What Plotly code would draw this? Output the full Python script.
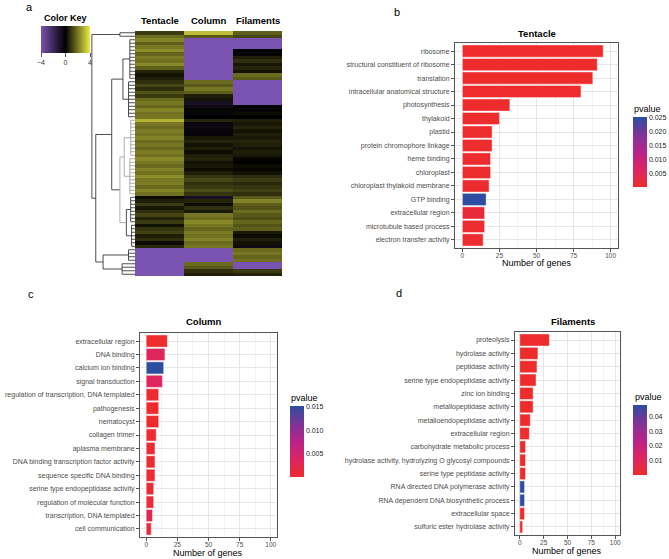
import plotly.graph_objects as go

FONT = "Liberation Sans, Arial, sans-serif"
W, H = 669, 559

# ---------------- panel a: heatmap data ----------------
heat_cols = ["Tentacle", "Column", "Filaments"]
tentacle_z = [1.0,
              1.8, 2.2, 1.6, 2.0, 2.4, 1.7, 2.1, 1.9, 2.3, 1.6,
              0.6, 0.3, 0.5, 0.8,
              1.2, 0.8, 1.4, 1.0,
              1.8, 2.0, 1.7, 2.2, 1.9, 2.0,
              3.0,
              2.0, 1.8, 2.1, 1.9, 2.2, 1.8, 2.0, 1.7, 2.1, 1.9, 2.3, 2.0, 1.8, 2.2, 1.9, 2.4, 2.0, 2.1, 1.8, 2.2, 1.9,
              0.2, 0.5,
              1.0, 0.4, 0.8, 1.2, 0.6, 1.0, 0.3, 0.9, 1.1, 0.5, 0.8, 0.2, 0.7,
              -5, -5, -5, -5, -5, -5, -5, -5]
column_z = [3.2,
            1.5,
            -5, -5, -5, -5, -5, -5, -5, -5, -5, -5, -5, -5,
            1.8, 1.5, 2.0, 1.6,
            0.5, 0.3,
            -0.8, -0.5,
            0.1, -0.2, 0.0,
            0.6,
            -0.3, -0.4, -0.3, -0.2,
            0.4, 0.6, 0.3, 0.5, 0.2, 0.5, 0.6, 0.3, 0.4, 0.2, 0.5,
            0.9, 1.2, 0.8, 1.0, 1.3, 0.9,
            -0.8,
            0.6, 0.2, 0.8, 0.4,
            2.0, 1.8, 2.3, 2.0, 1.7, 2.1, 1.9, 2.2, 1.8, 2.0,
            -5, -5, -5, -5,
            1.8, 1.5,
            0.8, 0.5]
filaments_z = [1.6, 1.2,
               -5, -5, -5,
               0.0, 0.1,
               0.5, 0.8, 0.4, 0.6, 0.3,
               1.8, 1.5,
               -5, -5, -5, -5, -5, -5, -5,
               0.0, 0.1, 0.2, 0.0,
               0.5, 0.4, 0.6, 0.3, 0.5, 0.4, 0.6, 0.5, 0.3, 0.5, 0.4,
               0.1, 0.0, 0.2, 0.1, 0.3,
               0.8, 1.0, 0.7, 0.9, 1.1, 0.8,
               1.5, 2.2, 1.6, 1.4, 1.8, 1.5, 1.3, 1.7, 1.4, 1.6,
               0.4, 0.2, 0.5, 0.3,
               -0.5,
               1.8, 2.0, 1.7, 1.9,
               -5, -5,
               1.0, 0.6]
key_ticks = [-4, 0, 4]

# dendrogram: (height, left, right, colour) for merges, ("leaf", first_row, last_row, height)
dendro_tree = (10.0,
               ("leaf", 0, 1, 3.5),
               (9.1,
                (5.4,
                 (2.8, ("leaf", 2, 13, 1.2), ("leaf", 14, 24, 1.5), "#222222"),
                 (3.5,
                  (2.5, ("leaf", 25, 35, 1.0), ("leaf", 36, 46, 1.2), "#9a9a9a"),
                  (2.0, ("leaf", 47, 54, 1.0), ("leaf", 55, 61, 0.8), "#222222"),
                  "#9a9a9a"),
                 "#222222"),
                (7.4, ("leaf", 62, 65, 1.5), ("leaf", 66, 69, 3.0), "#222222"),
                "#222222"),
               "#222222")

# ---------------- panels b-d: enrichment data ----------------
tent_terms = ["ribosome", "structural constituent of ribosome", "translation",
              "intracellular anatomical structure", "photosynthesis", "thylakoid", "plastid",
              "protein chromophore linkage", "heme binding", "chloroplast",
              "chloroplast thylakoid membrane", "GTP binding", "extracellular region",
              "microtubule based process", "electron transfer activity"]
tent_counts = [95, 91, 88, 80, 32, 25, 20, 20, 19, 19, 18, 16, 15, 15, 14]
tent_p = [0.0001, 0.0001, 0.0001, 0.0001, 0.0002, 0.0002, 0.0003, 0.0003, 0.0003, 0.0003,
          0.0004, 0.0252, 0.0018, 0.0004, 0.0004]
tent_pticks = [0.005, 0.010, 0.015, 0.020, 0.025]
tent_ptext = ["0.005", "0.010", "0.015", "0.020", "0.025"]

col_terms = ["extracellular region", "DNA binding", "calcium ion binding", "signal transduction",
             "regulation of transcription, DNA templated", "pathogenesis", "nematocyst",
             "collagen trimer", "aplasma membrane", "DNA binding transcription factor activity",
             "sequence specific DNA binding", "serine type endopeptidase activity",
             "regulation of molecular function", "transcription, DNA templated", "cell communication"]
col_counts = [17, 15, 14, 13, 10, 10, 10, 8, 7, 7, 7, 6, 6, 5, 4]
col_p = [0.0001, 0.0035, 0.0152, 0.0035, 0.0003, 0.0002, 0.0002, 0.0004, 0.0006, 0.0005,
         0.0005, 0.0007, 0.0007, 0.0030, 0.0008]
col_pticks = [0.005, 0.010, 0.015]
col_ptext = ["0.005", "0.010", "0.015"]

fil_terms = ["proteolysis", "hydrolase activity", "peptidase activity",
             "serine type endopeptidase activity", "zinc ion binding", "metallopeptidase activity",
             "metalloendopeptidase activity", "extracellular region", "carbohydrate metabolic process",
             "hydrolase activity, hydrolyzing O glycosyl compounds", "serine type peptidase activity",
             "RNA directed DNA polymerase activity", "RNA dependent DNA biosynthetic process",
             "extracellular space", "sulfuric ester hydrolase activity"]
fil_counts = [31, 19, 18, 17, 14, 14, 11, 10, 6, 6, 6, 5, 5, 5, 3]
fil_p = [0.0002, 0.0002, 0.0002, 0.0002, 0.0003, 0.0003, 0.0004, 0.0004, 0.0005, 0.0005,
         0.0005, 0.0480, 0.0480, 0.0006, 0.0006]
fil_pticks = [0.01, 0.02, 0.03, 0.04]
fil_ptext = ["0.01", "0.02", "0.03", "0.04"]

gene_ticks = [0, 25, 50, 75, 100]

# ---------------- helpers ----------------
def px(x):
    return x / W


def py(y):
    return 1 - y / H


p_scale = [[0.0, "#EE2C2C"], [0.25, "#DC2463"], [0.5, "#B8228A"],
           [0.75, "#7D3498"], [1.0, "#2D4EA0"]]
heat_scale = [[0.0, "#7A52B0"], [0.5, "#000000"], [1.0, "#EDED45"]]

fig = go.Figure()

# heatmap
z_rows = [[t, c, f] for t, c, f in zip(tentacle_z, column_z, filaments_z)]
fig.add_trace(go.Heatmap(
    z=z_rows, x=[0, 1, 2], y=list(range(len(z_rows))),
    zmin=-4, zmax=4, colorscale=heat_scale, xaxis="x", yaxis="y",
    hoverinfo="skip",
    colorbar=dict(orientation="h", x=px(65.5), xanchor="center", y=py(26), yanchor="top",
                  len=49, lenmode="pixels", thickness=27, xpad=0, ypad=0,
                  outlinewidth=0, tickvals=key_ticks,
                  ticktext=["\u22124", "0", "4"], ticks="outside", ticklen=4,
                  tickcolor="#555555", tickfont=dict(size=7, color="#333333", family=FONT))))

# dendrogram
segs = {}


def add_seg(color, x0, y0, x1, y1):
    xs, ys = segs.setdefault(color, ([], []))
    xs += [x0, x1, None]
    ys += [y0, y1, None]


def walk(node, color):
    if node[0] == "leaf":
        _, s, e, h = node
        if e > s:
            add_seg(color, h, s, h, e)
        for r in range(s, e + 1):
            add_seg(color, h, r, 0, r)
        return (s + e) / 2, h
    h, a, b, col = node
    pa, ha = walk(a, col)
    pb, hb = walk(b, col)
    add_seg(col, ha, pa, h, pa)
    add_seg(col, hb, pb, h, pb)
    add_seg(col, h, pa, h, pb)
    return (pa + pb) / 2, h


walk(dendro_tree, dendro_tree[3])
for color, (xs, ys) in segs.items():
    fig.add_trace(go.Scatter(x=xs, y=ys, mode="lines", xaxis="x2", yaxis="y2",
                             line=dict(color=color, width=0.8), hoverinfo="skip",
                             showlegend=False))


# bar panels
def bar_panel(n, terms, counts, pvals, pticks, ptext, cb_x, cb_y, cb_len):
    fig.add_trace(go.Bar(
        y=terms, x=counts, orientation="h", xaxis=f"x{n}", yaxis=f"y{n}",
        marker=dict(color=pvals, colorscale=p_scale, cmin=min(pvals), cmax=max(pvals),
                    line=dict(color="rgba(255,255,255,0.7)", width=0.6),
                    showscale=True,
                    colorbar=dict(x=px(cb_x), xanchor="left", y=py(cb_y), yanchor="top",
                                  len=cb_len, lenmode="pixels", thickness=14,
                                  thicknessmode="pixels", xpad=0, ypad=0, outlinewidth=0,
                                  tickvals=pticks, ticktext=ptext, ticks="",
                                  tickfont=dict(size=7, color="#222222", family=FONT))),
        showlegend=False, hoverinfo="skip"))


bar_panel(3, tent_terms, tent_counts, tent_p, tent_pticks, tent_ptext, 633, 117, 70)
bar_panel(4, col_terms, col_counts, col_p, col_pticks, col_ptext, 289.5, 406, 71)
bar_panel(5, fil_terms, fil_counts, fil_p, fil_pticks, fil_ptext, 633, 405, 70)


def bar_axes(xd, yd, terms):
    xa = dict(domain=xd, range=[-5, 105], tickvals=gene_ticks, showgrid=True,
              gridcolor="#E6E6E6", gridwidth=0.8, zeroline=False,
              minor=dict(dtick=12.5, tick0=12.5, showgrid=True, gridcolor="#F3F3F3", gridwidth=0.6),
              showline=True, linecolor="#555555", linewidth=1, mirror=True,
              ticks="outside", ticklen=3, tickcolor="#555555", ticklabelstandoff=-2,
              tickfont=dict(size=6.5, color="#4D4D4D", family=FONT), fixedrange=True)
    ya = dict(domain=yd, categoryorder="array", categoryarray=terms,
              range=[len(terms) - 0.4, -0.6], showgrid=True, gridcolor="#E6E6E6",
              gridwidth=0.8, zeroline=False,
              showline=True, linecolor="#555555", linewidth=1, mirror=True,
              ticks="outside", ticklen=3, tickcolor="#555555",
              tickfont=dict(size=7, color="#4D4D4D", family=FONT), fixedrange=True)
    return xa, ya


xa3, ya3 = bar_axes([px(455), px(618)], [py(248), py(43)], tent_terms)
xa4, ya4 = bar_axes([px(140), px(277)], [py(537), py(333)], col_terms)
xa5, ya5 = bar_axes([px(515), px(620)], [py(535), py(332)], fil_terms)
xa3["anchor"] = "y3"; ya3["anchor"] = "x3"
xa4["anchor"] = "y4"; ya4["anchor"] = "x4"
xa5["anchor"] = "y5"; ya5["anchor"] = "x5"

n_rows = len(z_rows)
fig.update_layout(
    template="none",
    width=W, height=H, margin=dict(l=0, r=0, t=0, b=0, pad=0),
    paper_bgcolor="white", plot_bgcolor="white",
    font=dict(family=FONT, color="#000000"),
    bargap=0.1, showlegend=False,
    xaxis=dict(domain=[px(135), px(282)], range=[-0.5, 2.5], visible=False, anchor="y",
               fixedrange=True),
    yaxis=dict(domain=[py(276), py(31)], range=[n_rows - 0.5, -0.5], visible=False,
               anchor="x", fixedrange=True),
    xaxis2=dict(domain=[px(91), px(135)], range=[10.2, 0], visible=False, anchor="y2",
                fixedrange=True),
    yaxis2=dict(domain=[py(276), py(31)], range=[n_rows - 0.5, -0.5], visible=False,
                anchor="x2", fixedrange=True),
    xaxis3=xa3, yaxis3=ya3, xaxis4=xa4, yaxis4=ya4, xaxis5=xa5, yaxis5=ya5,
)

ann = []


def text(x, y, s, size, bold=False, xanchor="center", xref="paper", color="#000000"):
    ann.append(dict(x=x if xref != "paper" else px(x), y=py(y), xref=xref, yref="paper",
                    text=f"<b>{s}</b>" if bold else s, showarrow=False,
                    xanchor=xanchor, yanchor="middle",
                    font=dict(size=size, family=FONT, color=color)))


# panel letters
text(29.5, 6.5, "a", 11)
text(396.5, 12, "b", 11)
text(31.5, 294, "c", 11)
text(398.5, 293, "d", 11)
# heatmap labels
text(65.5, 17.5, "Color Key", 9, bold=True)
for i, name in enumerate(heat_cols):
    text(i, 20.5, name, 9.5, bold=True, xref="x")
# bar panel titles
text(536.7, 33, "Tentacle", 9.5, bold=True)
text(204, 321.5, "Column", 9.5, bold=True)
text(572.7, 321.5, "Filaments", 9.5, bold=True)
text(536.7, 262.5, "Number of genes", 9)
text(208.3, 553, "Number of genes", 9)
text(567.3, 551, "Number of genes", 9)
text(632, 108.5, "pvalue", 9, xanchor="left")
text(288.5, 398, "pvalue", 9, xanchor="left")
text(633, 396.5, "pvalue", 9, xanchor="left")

fig.update_layout(annotations=ann)
fig.write_html("out.html", config={"displayModeBar": False},
               post_script="document.body.style.margin='0';document.body.style.overflow='hidden';")
